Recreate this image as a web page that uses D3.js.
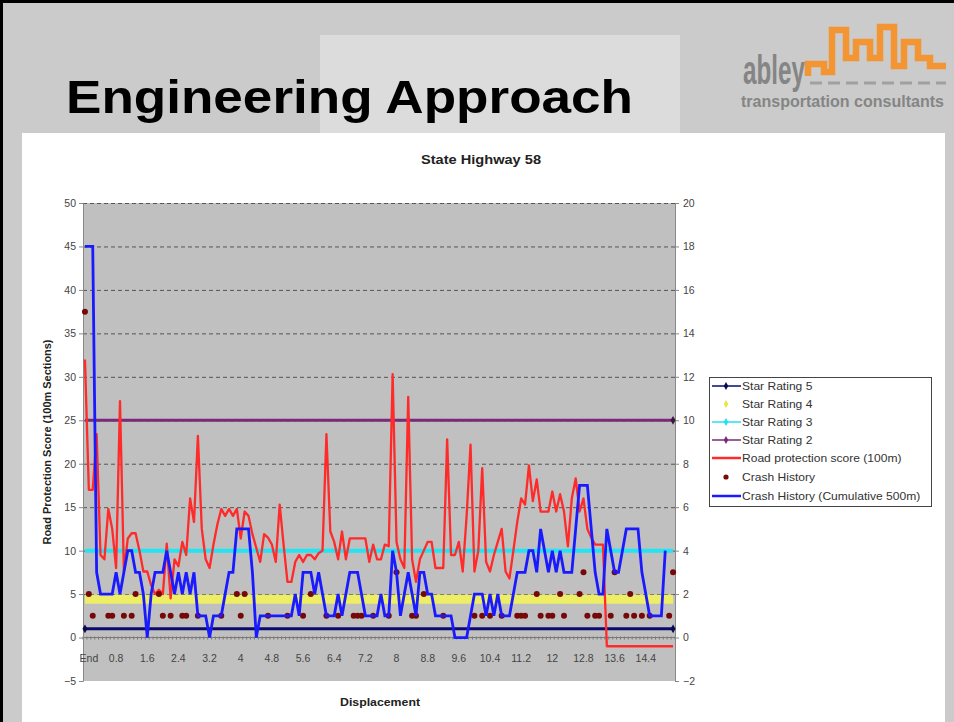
<!DOCTYPE html>
<html><head><meta charset="utf-8">
<script src="https://cdn.jsdelivr.net/npm/d3@7"></script>
<style>html,body{margin:0;padding:0;background:#fff}svg{display:block}</style>
</head><body>
<script>
// ---------------- DATA ----------------
const xTickLabels = ["End","0.8","1.6","2.4","3.2","4","4.8","5.6","6.4","7.2","8","8.8","9.6","10.4","11.2","12","12.8","13.6","14.4"];
const leftTicks = [-5,0,5,10,15,20,25,30,35,40,45,50];
const rightTicks = [-2,0,2,4,6,8,10,12,14,16,18,20];
// Road protection score (100m) – left axis
const roadProtection = [
32,17,17,23.4,9.5,9,14.8,12.5,8,27.2,
7.6,11.4,12,12,10,7.6,7.6,6,5,5.5,
5,10.8,4.5,9,8.2,11,9.5,16,13.3,23.2,
12.5,9,8,10.7,13,14.8,14,14.8,14,14.8,
11.4,14.5,14,11.9,10.3,8.7,11.9,11.5,10.7,8.7,
15.3,10.7,6.4,6.4,8.7,9.5,8.7,9.5,9.5,9,
9.7,10,23.4,12.2,11,9,12.2,9,11.4,11.4,
11.4,11.4,11.4,8.7,10.7,9,9,10.7,10.5,30.3,
11,9,8,27.7,9,6.4,9,10,11,11,
8,8,8,22.8,9.5,9.5,11,7.6,14,22.2,
7.6,10,19.5,8.7,7.6,9.5,11,12.5,7.6,6.8,
10,13.3,16,15.3,19.8,15.7,18.2,14.5,14.5,14.5,
16.8,14.5,16.5,14.5,10.5,16,18.3,14.5,16,12.5,
11.5,10.7,10.7,10.7,-1,-1,-1,-1,-1,-1,
-1,-1,-1,-1,-1,-1,-1,-1,-1,-1,
-1,-1
];
// Crash history (cumulative 500m) – right axis
const crashCumulative = [
18,18,18,3,2,2,2,2,3,2,
3,4,4,3,3,2,0,2,3,3,
3,4,3,2,3,2,3,2,3,1,
1,1,0,1,1,1,2,3,3,5,
5,5,5,3,0,1,1,1,1,1,
1,1,1,1,2,1,3,3,3,2,
3,2,1,1,1,2,1,2,3,3,
3,2,1,1,1,1,2,1,1,4,
3,1,2,3,2,1,3,3,2,2,
1,1,1,1,1,0,0,0,0,1,
2,2,2,1,2,1,2,1,1,1,
2,3,3,3,4,4,3,5,4,3,
4,3,4,3,3,3,5,7,7,7,
5,3,2,2,5,4,3,3,4,5,
5,5,5,3,2,1,1,1,1,4
];
// Crash history (per 100m) – right axis
const crashHistory = [
15,2,1,0,0,0,1,1,0,0,
1,0,1,2,0,0,0,0,0,2,
1,0,1,0,0,1,1,0,0,1,
0,0,0,0,0,1,0,0,0,2,
1,2,0,0,0,0,0,1,0,0,
0,0,1,0,0,0,1,0,2,0,
0,0,1,0,0,1,0,0,0,1,
1,1,0,0,1,0,0,0,1,0,
3,0,0,0,1,1,0,2,0,0,
0,0,1,0,0,0,0,0,0,0,
1,0,1,0,1,0,0,1,0,0,
0,1,1,1,0,0,2,1,0,1,
1,0,2,1,0,0,0,2,3,1,
0,1,1,0,0,1,3,0,0,1,
2,1,0,1,0,1,0,0,0,0,
1,3
];
// Star rating thresholds – left axis
const starRating5 = 1;
const starRating4 = 4.4;
const starRating3 = 10;
const starRating2 = 25;
const legendLabels = ["Star Rating 5","Star Rating 4","Star Rating 3","Star Rating 2","Road protection score (100m)","Crash History","Crash History (Cumulative 500m)"];

// ---------------- DRAW ----------------
(function(){
const W=954,H=722;
const svg=d3.select("body").append("svg").attr("width",W).attr("height",H);
svg.append("rect").attr("width",W).attr("height",H).attr("fill","#cbcbcb");
svg.append("rect").attr("x",320).attr("y",35).attr("width",360).attr("height",100).attr("fill","#dcdcdc");
svg.append("path").attr("d","M1.5,722 V1.5 H954").attr("fill","none").attr("stroke","#000").attr("stroke-width",3);
svg.append("text").attr("x",66).attr("y",113).attr("font-family","Liberation Sans, Arial, sans-serif")
  .attr("font-weight","bold").attr("font-size",47).attr("fill","#000")
  .attr("textLength",567).attr("lengthAdjust","spacingAndGlyphs").text("Engineering Approach");
const logo=svg.append("g");
logo.append("text").attr("x",743).attr("y",84).attr("font-family","Liberation Sans Narrow, Liberation Sans, Arial")
  .attr("font-weight","bold").attr("font-size",40).attr("fill","#858585")
  .attr("textLength",62).attr("lengthAdjust","spacingAndGlyphs").text("abley");
logo.append("path").attr("d","M808,76 V64 H824 V72 H832 V30 H846 V58 H856 V42 H870 V58 H880 V27 H894 V66 H904 V42 H918 V58 H930 V66 H946")
  .attr("fill","none").attr("stroke","#f39532").attr("stroke-width",6.5).attr("stroke-linejoin","miter");
logo.append("line").attr("x1",810).attr("x2",946).attr("y1",83).attr("y2",83).attr("stroke","#a0a0a0").attr("stroke-width",3).attr("stroke-dasharray","12,6");
logo.append("text").attr("x",741).attr("y",107).attr("font-family","Liberation Sans Narrow, Liberation Sans, Arial")
  .attr("font-weight","bold").attr("font-size",16).attr("fill","#858585")
  .attr("textLength",203).attr("lengthAdjust","spacingAndGlyphs").text("transportation consultants");

svg.append("rect").attr("x",22).attr("y",133).attr("width",923).attr("height",589).attr("fill","#ffffff");

const pL=83,pR=675,pT=203,pB=681;
const N=roadProtection.length;
const x=d3.scaleBand().domain(d3.range(N)).range([pL,pR]);
const cx=i=>x(i)+x.bandwidth()/2;
const yL=d3.scaleLinear().domain([-5,50]).range([pB,pT]);
const yR=d3.scaleLinear().domain([-2,20]).range([pB,pT]);
const font="Liberation Sans, Arial, sans-serif";

svg.append("rect").attr("x",pL).attr("y",pT).attr("width",pR-pL).attr("height",pB-pT).attr("fill","#c0c0c0");
svg.append("g").selectAll("line").data(leftTicks.filter(v=>v>-5&&v!==0)).join("line")
  .attr("x1",pL).attr("x2",pR).attr("y1",d=>yL(d)+0.5).attr("y2",d=>yL(d)+0.5)
  .attr("stroke","#555").attr("stroke-width",1).attr("stroke-dasharray","4,3");
svg.append("line").attr("x1",pL).attr("x2",pR).attr("y1",yL(0)).attr("y2",yL(0)).attr("stroke","#777").attr("stroke-width",1);
svg.append("g").selectAll("line").data(d3.range(N+1)).join("line")
  .attr("x1",i=>pL+i*x.bandwidth()).attr("x2",i=>pL+i*x.bandwidth())
  .attr("y1",yL(0)-1).attr("y2",yL(0)+2).attr("stroke","#777").attr("stroke-width",1);
const axL=svg.append("g").attr("transform",`translate(${pL},0)`)
  .call(d3.axisLeft(yL).tickValues(leftTicks).tickSize(4).tickPadding(3));
const axR=svg.append("g").attr("transform",`translate(${pR},0)`)
  .call(d3.axisRight(yR).tickValues(rightTicks).tickSize(4).tickPadding(4));
[axL,axR].forEach(a=>{a.selectAll("path").attr("stroke","#888");a.selectAll("line").attr("stroke","#888");
  a.selectAll("text").attr("font-family",font).attr("font-size",10.5).attr("fill","#444");});
const labelIdx=xTickLabels.map((l,k)=>k*8);
svg.append("g").selectAll("text").data(xTickLabels).join("text")
  .attr("x",(d,k)=>cx(labelIdx[k])+ (k===0?4:0)).attr("y",662).attr("text-anchor","middle")
  .attr("font-family",font).attr("font-size",10.5).attr("fill","#444").text(d=>d);

function hline(v,color,w){
  svg.append("path").datum([0,N-1]).attr("fill","none").attr("stroke",color).attr("stroke-width",w)
   .attr("d",d3.line().x(i=>cx(i)).y(()=>yL(v)));
}
hline(starRating2,"#7a2a78",3);
hline(starRating4,"#eeee66",9);
hline(starRating3,"#22e4f2",4);
hline(starRating5,"#0a0a70",3);
[[starRating5,0],[starRating5,N-1],[starRating2,N-1]].forEach(([v,i])=>{
  svg.append("path").attr("d",d3.symbol(d3.symbolDiamond,22)()).attr("transform",`translate(${cx(i)},${yL(v)})`).attr("fill",v===starRating5?"#0a0a50":"#3a1a3a");
});

svg.append("path").datum(roadProtection).attr("fill","none").attr("stroke","#ff2a2a").attr("stroke-width",2.3)
  .attr("stroke-linejoin","round").attr("d",d3.line().x((d,i)=>cx(i)).y(d=>yL(d)));
svg.append("g").selectAll("circle").data(crashHistory.map((v,i)=>({v,i})).filter(d=>d.v>0)).join("circle")
  .attr("cx",d=>cx(d.i)).attr("cy",d=>yR(d.v)).attr("r",3).attr("fill","#760808");
svg.append("path").datum(crashCumulative).attr("fill","none").attr("stroke","#1a1aff").attr("stroke-width",2.8)
  .attr("stroke-linejoin","miter").attr("d",d3.line().x((d,i)=>cx(i)).y(d=>yR(d)));

svg.append("text").attr("x",481).attr("y",164).attr("text-anchor","middle").attr("font-family",font)
  .attr("font-weight","bold").attr("font-size",12).attr("fill","#222")
  .attr("textLength",120).attr("lengthAdjust","spacingAndGlyphs").text("State Highway 58");
svg.append("text").attr("x",380).attr("y",706).attr("text-anchor","middle").attr("font-family",font)
  .attr("font-weight","bold").attr("font-size",11).attr("fill","#222")
  .attr("textLength",80).attr("lengthAdjust","spacingAndGlyphs").text("Displacement");
svg.append("text").attr("transform","translate(51,442) rotate(-90)").attr("text-anchor","middle").attr("font-family",font)
  .attr("font-weight","bold").attr("font-size",10.5).attr("fill","#222")
  .attr("textLength",205).attr("lengthAdjust","spacingAndGlyphs").text("Road Protection Score (100m Sections)");

const lg=svg.append("g");
lg.append("rect").attr("x",709.5).attr("y",377.5).attr("width",222).attr("height",129).attr("fill","#fff").attr("stroke","#444");
const ly=[386,404,422,440,458,477,496];
const styles=[
 {c:"#0a0a70",w:1.5,m:"diamond",mc:"#0a0a50"},
 {c:"#f4f470",w:0,m:"diamond",mc:"#e8e840"},
 {c:"#22e0f0",w:1.5,m:"diamond",mc:"#22e0f0"},
 {c:"#7a2a78",w:1.5,m:"diamond",mc:"#7a2a78"},
 {c:"#ff2a2a",w:2.5,m:null},
 {c:"#7a0a0a",w:0,m:"circle",mc:"#7a0a0a"},
 {c:"#1a1aff",w:2.5,m:null}];
legendLabels.forEach((t,k)=>{
  const s=styles[k];
  if(s.w>0) lg.append("line").attr("x1",712).attr("x2",741).attr("y1",ly[k]).attr("y2",ly[k]).attr("stroke",s.c).attr("stroke-width",s.w);
  if(s.m==="diamond") lg.append("path").attr("d",d3.symbol(d3.symbolDiamond,18)()).attr("transform",`translate(726,${ly[k]})`).attr("fill",s.mc);
  if(s.m==="circle") lg.append("circle").attr("cx",726).attr("cy",ly[k]).attr("r",2.6).attr("fill",s.mc);
  lg.append("text").attr("x",0).attr("y",0).attr("transform",`translate(742,${ly[k]+3.8}) scale(1.15,1)`)
    .attr("font-family",font).attr("font-size",10.5).attr("fill","#333").text(t);
});
})();
</script>
</body></html>
